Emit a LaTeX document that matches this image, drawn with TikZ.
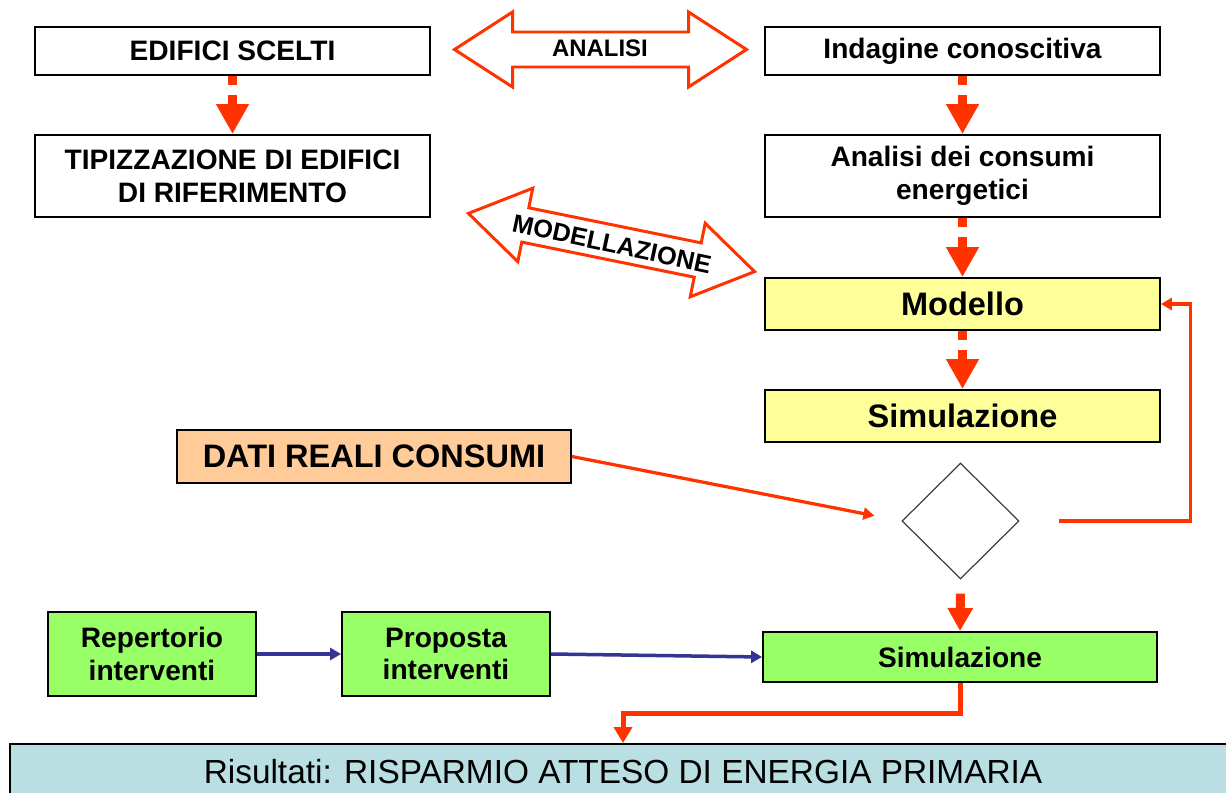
\documentclass[tikz,border=0pt]{standalone}
\usepackage{fontspec}
\setmainfont{Liberation Sans}
\usetikzlibrary{positioning,arrows.meta,shapes.geometric}
\definecolor{flowred}{HTML}{FF3300}
\definecolor{linkblue}{HTML}{333399}
\definecolor{boxyellow}{HTML}{FFFF99}
\definecolor{boxorange}{HTML}{FFCC99}
\definecolor{boxgreen}{HTML}{99FF66}
\definecolor{resblue}{RGB}{185,223,227}
\tikzset{
  box/.style={draw=black,line width=1.1pt,fill=white,align=center,inner sep=0pt,
    font=\fontsize{16}{18.7}\selectfont\bfseries,minimum width=7.9cm,minimum height=0.96cm},
  tallbox/.style={box,minimum height=1.64cm},
  bigbox/.style={box,font=\fontsize{18.5}{21}\selectfont\bfseries,minimum height=1.04cm},
  smallbox/.style={box,fill=boxgreen,minimum width=4.16cm,minimum height=1.68cm},
  dasharr/.style={flowred,line width=0.19cm,dash pattern=on 0.19cm off 0.2cm,
    -{Triangle[length=0.6cm,width=0.62cm]}},
  solidarr/.style={flowred,line width=0.18cm,-{Triangle[length=0.46cm,width=0.48cm]}},
  redline/.style={flowred,line width=0.065cm,-{Triangle[length=0.22cm,width=0.24cm]}},
  bluearr/.style={linkblue,line width=0.07cm,-{Triangle[length=0.22cm,width=0.24cm]}},
  dblarr/.style={draw=flowred,line width=1.7pt,fill=white,line join=miter},
  arrlabel/.style={font=\fontsize{13.6}{16}\selectfont\bfseries,inner sep=0pt},
}
% outline of the big double arrows, centred at the origin
\newcommand{\dblarrowpath}{(-146,0) -- (-88,-37.5) -- (-88,-17.5) -- (88,-17.5) -- (88,-37.5)
  -- (146,0) -- (88,37.5) -- (88,17.5) -- (-88,17.5) -- (-88,37.5) -- cycle}
\begin{document}
\begin{tikzpicture}[x=0.02cm,y=-0.02cm]
  \useasboundingbox (0,0) rectangle (1226,793);
  % left column
  \node[box] (edif) at (232.5,51) {EDIFICI SCELTI};
  \node[tallbox] (tipi) at (232.5,176) {TIPIZZAZIONE DI EDIFICI\\DI RIFERIMENTO};
  % right column
  \node[box] (indag) at (962.5,51) {Indagine conoscitiva};
  \node[tallbox] (consumi) at (962.5,176) {Analisi dei consumi\\energetici};
  \node[bigbox,fill=boxyellow] (modello) at (962.5,304) {Modello};
  \node[bigbox,fill=boxyellow] (simul) at (962.5,416) {Simulazione};
  \node[bigbox,fill=boxorange,minimum width=7.88cm,minimum height=1.06cm] (dati) at (374,456.5) {DATI REALI CONSUMI};
  \node[diamond,draw=black!75,line width=0.7pt,minimum width=2.34cm,minimum height=2.32cm,inner sep=0pt] (dia) at (960.5,521) {};
  % interventions
  \node[smallbox] (repert) at (152,654) {Repertorio\\interventi};
  \node[smallbox] (propo) at (446,654) {Proposta\\interventi};
  \node[box,fill=boxgreen,minimum width=7.88cm,minimum height=1.0cm] (simfin) at (960,657) {Simulazione};
  \node[box,fill=resblue,font=\fontsize{19}{22}\selectfont,minimum width=24.52cm,minimum height=1.12cm] (result) at (623,772)
    {Risultati: RISPARMIO ATTESO DI ENERGIA PRIMARIA};
  % double arrows
  \begin{scope}[shift={(600.5,49.5)}]
    \draw[dblarr] \dblarrowpath;
  \end{scope}
  \node[arrlabel] (analisi) at (600,48) {ANALISI};
  \begin{scope}[shift={(611.5,242.5)},rotate=-11.5]
    \draw[dblarr] \dblarrowpath;
  \end{scope}
  \node[arrlabel,font=\fontsize{14.4}{16}\selectfont\bfseries,rotate=-12] (modlab) at (612,244) {MODELLAZIONE};
  % flow
  \draw[dasharr] (edif) -- (tipi);
  \draw[dasharr] (indag) -- (consumi);
  \draw[dasharr] (consumi) -- (modello);
  \draw[dasharr] (modello) -- (simul);
  \draw[redline,shorten >=0.55cm] (dati.east) -- (dia.west);
  \draw[redline] (dia.east) ++(39,0) -- ++(132,0) |- (modello.east);
  \draw[solidarr,shorten <=0.28cm] (dia.south) -- (simfin.north);
  \draw[redline,line width=0.1cm,-{Triangle[length=0.32cm,width=0.36cm]}] (simfin.south) -- ++(0,31) -| (result.north);
  \draw[bluearr] (repert.east) -- (propo.west);
  \draw[bluearr] (propo.east) -- (simfin.west);
\end{tikzpicture}
\end{document}
